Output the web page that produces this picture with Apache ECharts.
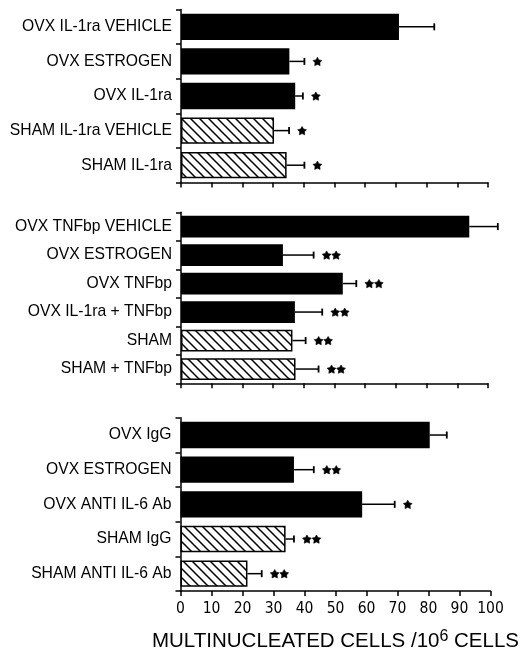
<!DOCTYPE html>
<html>
<head>
<meta charset="utf-8">
<script src="https://cdn.jsdelivr.net/npm/echarts@6/dist/echarts.min.js"></script>
<style>html,body{margin:0;padding:0;background:#fff;}#c{width:521px;height:654px;}</style>
</head>
<body>
<div id="c"></div>
<script>
// ---- data ----
const cats1 = ['OVX IL-1ra VEHICLE','OVX ESTROGEN','OVX IL-1ra','SHAM IL-1ra VEHICLE','SHAM IL-1ra'];
const vals1 = [71, 35.3, 37.2, 30.3, 34.4];
const errs1 = [11.5, 4.9, 2.5, 4.9, 5.8];
const sig1  = [0, 1, 1, 1, 1];
const hatch1 = [0, 0, 0, 1, 1];

const cats2 = ['OVX TNFbp VEHICLE','OVX ESTROGEN','OVX TNFbp','OVX IL-1ra + TNFbp','SHAM','SHAM + TNFbp'];
const vals2 = [93.9, 33.2, 52.7, 37.1, 36.3, 37.3];
const errs2 = [9.3, 10, 4.4, 8.9, 4.3, 7.5];
const sig2  = [0, 2, 2, 2, 2, 2];
const hatch2 = [0, 0, 0, 0, 1, 1];

const cats3 = ['OVX IgG','OVX ESTROGEN','OVX ANTI IL-6 Ab','SHAM IgG','SHAM ANTI IL-6 Ab'];
const vals3 = [80.4, 36.6, 58.6, 33.9, 21.6];
const errs3 = [5.5, 6.4, 10.5, 2.7, 4.6];
const sig3  = [0, 2, 1, 2, 2];
const hatch3 = [0, 0, 0, 1, 1];

const xTicks = [0,10,20,30,40,50,60,70,80,90,100];
const xTitle = 'MULTINUCLEATED CELLS /10{sup|6} CELLS';

// ---- hatch pattern ----
const pc = document.createElement('canvas');
const S = 9;
pc.width = S; pc.height = S;
const g = pc.getContext('2d');
g.fillStyle = '#fff'; g.fillRect(0,0,S,S);
g.strokeStyle = '#000'; g.lineWidth = 1.5;
g.beginPath();
g.moveTo(-2,-2); g.lineTo(S+2,S+2);
g.moveTo(S-2,-2); g.lineTo(S+2,2);
g.moveTo(-2,S-2); g.lineTo(2,S+2);
g.stroke();
const hatchFill = {image: pc, repeat: 'repeat'};

const FONT = '"Liberation Sans", Arial, Helvetica, sans-serif';
const NARROW = '"Liberation Sans Narrow", "Arial Narrow", "DejaVu Sans Condensed", sans-serif';

const grids = [
  {left: 181, width: 307, top: 9.5, height: 173},
  {left: 181, width: 307, top: 212.3, height: 171},
  {left: 180.5, width: 310, top: 417.7, height: 173.3}
];

function xAxisFor(i, last) {
  return {
    type: 'value', gridIndex: i, min: 0, max: 100, interval: 10,
    axisLine: {show: true, lineStyle: {color: '#000', width: 1.5}},
    axisTick: {show: true, length: 5, lineStyle: {color: '#000', width: 1.5}},
    splitLine: {show: false},
    axisLabel: last ? {show: true, margin: 10, fontFamily: NARROW, fontSize: 15.5, color: '#000',
      formatter: v => String(v)} : {show: false},
    name: last ? xTitle : '',
    nameLocation: 'middle', nameGap: 38,
    nameTextStyle: last ? {fontFamily: FONT, fontSize: 20.5, color: '#000',
      rich: {sup: {fontFamily: FONT, fontSize: 16, color: '#000', verticalAlign: 'top', lineHeight: 24}}} : {}
  };
}
function yAxisFor(i, cats) {
  return {
    type: 'category', gridIndex: i, data: cats, inverse: true,
    axisLine: {show: true, lineStyle: {color: '#000', width: 1.5}},
    axisTick: {show: true, length: 5, lineStyle: {color: '#000', width: 1.5}},
    axisLabel: {margin: 9, fontFamily: FONT, fontSize: 15.7, color: '#000'}
  };
}

function barSeries(i, vals, hatch) {
  return {
    type: 'bar', xAxisIndex: i, yAxisIndex: i, barCategoryGap: '24%',
    data: vals.map((v, k) => hatch[k]
      ? {value: v, itemStyle: {color: hatchFill, borderColor: '#000', borderWidth: 1.5}}
      : {value: v, itemStyle: {color: '#000'}}),
    silent: true, animation: false
  };
}

function starPoints(cx, cy, R, r) {
  const pts = [];
  for (let k = 0; k < 10; k++) {
    const rad = (k % 2 === 0) ? R : r;
    const a = -Math.PI / 2 + k * Math.PI / 5;
    pts.push([cx + rad * Math.cos(a), cy + rad * Math.sin(a)]);
  }
  return pts;
}

function errSeries(i, vals, errs, sig) {
  return {
    type: 'custom', xAxisIndex: i, yAxisIndex: i, clip: false, silent: true, animation: false,
    data: vals.map((v, k) => [v, k, errs[k], sig[k]]),
    renderItem: function (params, api) {
      const v = api.value(0), c = api.value(1), e = api.value(2), n = api.value(3);
      const p0 = api.coord([v, c]);
      const p1 = api.coord([v + e, c]);
      const children = [
        {type: 'line', shape: {x1: p0[0], y1: p0[1], x2: p1[0], y2: p1[1]}, style: {stroke: '#000', lineWidth: 1.5}},
        {type: 'line', shape: {x1: p1[0], y1: p1[1] - 3.5, x2: p1[0], y2: p1[1] + 3.5}, style: {stroke: '#000', lineWidth: 1.8}}
      ];
      for (let s = 0; s < n; s++) {
        children.push({type: 'polygon', shape: {points: starPoints(p1[0] + 13 + s * 9.5, p1[1] + 0.5, 4.6, 2.5)},
          style: {fill: '#000', stroke: '#000', lineWidth: 0.6}});
      }
      return {type: 'group', children: children};
    }
  };
}

const chart = echarts.init(document.getElementById('c'), null, {renderer: 'canvas'});
chart.setOption({
  backgroundColor: '#fff',
  animation: false,
  grid: grids,
  xAxis: [xAxisFor(0, false), xAxisFor(1, false), xAxisFor(2, true)],
  yAxis: [yAxisFor(0, cats1), yAxisFor(1, cats2), yAxisFor(2, cats3)],
  series: [
    barSeries(0, vals1, hatch1), errSeries(0, vals1, errs1, sig1),
    barSeries(1, vals2, hatch2), errSeries(1, vals2, errs2, sig2),
    barSeries(2, vals3, hatch3), errSeries(2, vals3, errs3, sig3)
  ]
});
</script>
</body>
</html>
